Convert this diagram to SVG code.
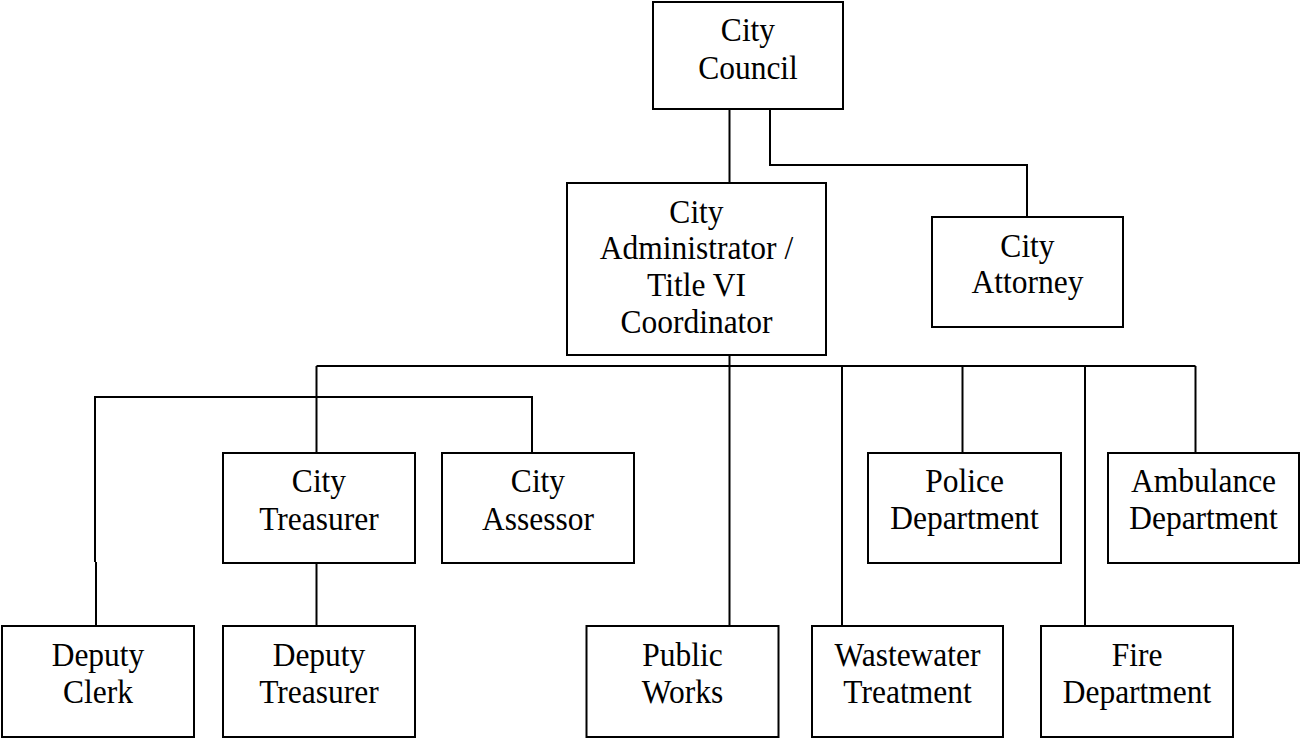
<svg xmlns="http://www.w3.org/2000/svg" width="1301" height="738" viewBox="0 0 1301 738">
<style>
.box{fill:#fff;stroke:#000;stroke-width:2}
.ln{fill:none;stroke:#000;stroke-width:2}
text{font-family:"Liberation Serif","Times New Roman",serif;font-size:31.5px;fill:#000;text-anchor:middle}
</style>
<rect width="1301" height="738" fill="#fff"/>
<g id="connectors">
<path class="ln" d="M729.5 109V184"/>
<path class="ln" d="M770 109V165H1027V217"/>
<path class="ln" d="M729.5 355V626"/>
<path class="ln" d="M316.5 366H1195.5"/>
<path class="ln" d="M316.5 366V453"/>
<path class="ln" d="M95 562V397H532V453"/>
<path class="ln" d="M96 562V626"/>
<path class="ln" d="M316.5 563V626"/>
<path class="ln" d="M842 366V626"/>
<path class="ln" d="M962.5 366V453"/>
<path class="ln" d="M1085 366V626"/>
<path class="ln" d="M1195.5 366V453"/>
</g>
<g id="council"><rect class="box" x="653" y="2" width="190" height="107"/><text transform="translate(748 41) scale(1 1.09)">City</text><text transform="translate(748 79) scale(1 1.09)">Council</text></g>
<g id="admin"><rect class="box" x="567" y="183" width="259" height="172"/><text transform="translate(696.5 223) scale(1 1.09)">City</text><text transform="translate(696.5 259) scale(1 1.09)">Administrator /</text><text transform="translate(696.5 296) scale(1 1.09)">Title VI</text><text transform="translate(696.5 333) scale(1 1.09)">Coordinator</text></g>
<g id="attorney"><rect class="box" x="932" y="217" width="191" height="110"/><text transform="translate(1027.5 257) scale(1 1.09)">City</text><text transform="translate(1027.5 293) scale(1 1.09)">Attorney</text></g>
<g id="treasurer"><rect class="box" x="223" y="453" width="192" height="110"/><text transform="translate(319 492) scale(1 1.09)">City</text><text transform="translate(319 530) scale(1 1.09)">Treasurer</text></g>
<g id="assessor"><rect class="box" x="442" y="453" width="192" height="110"/><text transform="translate(538 492) scale(1 1.09)">City</text><text transform="translate(538 530) scale(1 1.09)">Assessor</text></g>
<g id="police"><rect class="box" x="868" y="453" width="193" height="110"/><text transform="translate(964.5 492) scale(1 1.09)">Police</text><text transform="translate(964.5 529) scale(1 1.09)">Department</text></g>
<g id="ambulance"><rect class="box" x="1108" y="453" width="191" height="110"/><text transform="translate(1203.5 492) scale(1 1.09)">Ambulance</text><text transform="translate(1203.5 529) scale(1 1.09)">Department</text></g>
<g id="deputy-clerk"><rect class="box" x="2" y="626" width="192" height="111"/><text transform="translate(98 666) scale(1 1.09)">Deputy</text><text transform="translate(98 703) scale(1 1.09)">Clerk</text></g>
<g id="deputy-treasurer"><rect class="box" x="223" y="626" width="192" height="111"/><text transform="translate(319 666) scale(1 1.09)">Deputy</text><text transform="translate(319 703) scale(1 1.09)">Treasurer</text></g>
<g id="public-works"><rect class="box" x="586.5" y="626" width="192" height="111"/><text transform="translate(682.5 666) scale(1 1.09)">Public</text><text transform="translate(682.5 703) scale(1 1.09)">Works</text></g>
<g id="wastewater"><rect class="box" x="812" y="626" width="191" height="111"/><text transform="translate(907.5 666) scale(1 1.09)">Wastewater</text><text transform="translate(907.5 703) scale(1 1.09)">Treatment</text></g>
<g id="fire"><rect class="box" x="1041" y="626" width="192" height="111"/><text transform="translate(1137 666) scale(1 1.09)">Fire</text><text transform="translate(1137 703) scale(1 1.09)">Department</text></g>
</svg>
